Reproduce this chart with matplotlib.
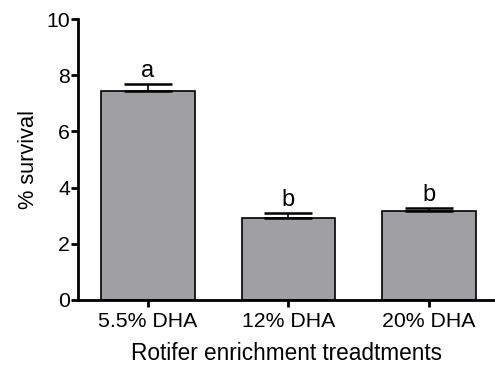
import matplotlib
matplotlib.use("Agg")
import matplotlib.pyplot as plt

plt.rcParams["font.family"] = ["Liberation Sans", "DejaVu Sans"]

# Data
treatments = ["5.5% DHA", "12% DHA", "20% DHA"]
survival = [7.44, 2.90, 3.18]
sem = [0.25, 0.20, 0.09]
letters = ["a", "b", "b"]

fig = plt.figure(figsize=(4.95, 3.67), dpi=100)
ax = fig.add_axes([0.158, 0.183, 0.842, 0.765])

x = list(range(len(treatments)))
ax.bar(x, survival, width=0.665, color="#a09fa4", edgecolor="black", linewidth=1.2, zorder=2)
ax.errorbar(x, survival, yerr=[[0] * len(sem), sem], fmt="none", ecolor="black",
            elinewidth=1.2, capsize=17, capthick=1.8, zorder=3)

for xi, v, e, lab in zip(x, survival, sem, letters):
    ax.text(xi, v + e + 0.08, lab, ha="center", va="bottom", fontsize=17)

ax.set_ylim(0, 10)
ax.set_xlim(-0.495, 2.47)
ax.set_yticks([0, 2, 4, 6, 8, 10])
ax.set_xticks(x)
ax.set_xticklabels(treatments)
ax.tick_params(axis="both", labelsize=15.3, width=2, length=5, direction="out")
ax.tick_params(axis="y", pad=1)
ax.tick_params(axis="x", pad=4)

for s in ["top", "right"]:
    ax.spines[s].set_visible(False)
for s in ["left", "bottom"]:
    ax.spines[s].set_linewidth(2)

ax.set_ylabel("% survival", fontsize=15.7, labelpad=5)
ax.set_xlabel("Rotifer enrichment treadtments", fontsize=16.3, labelpad=8)

fig.savefig("out.png", dpi=100)
